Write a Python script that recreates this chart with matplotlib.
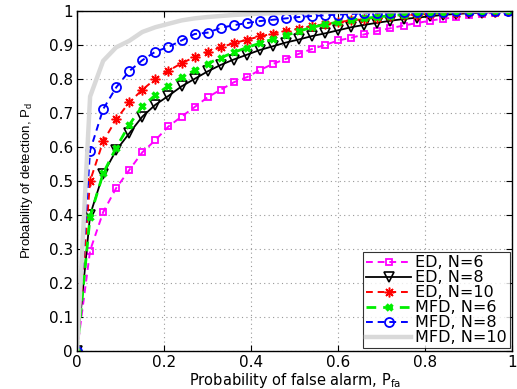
import matplotlib
matplotlib.use("Agg")
import matplotlib.pyplot as plt

pfa = [0.00, 0.03, 0.06, 0.09, 0.12, 0.15, 0.18, 0.21, 0.24, 0.27, 0.30, 0.33,
       0.36, 0.39, 0.42, 0.45, 0.48, 0.51, 0.54, 0.57, 0.60, 0.63, 0.66, 0.69,
       0.72, 0.75, 0.78, 0.81, 0.84, 0.87, 0.90, 0.93, 0.96, 0.99]

ed_n6 = [0, 0.295, 0.408, 0.479, 0.532, 0.584, 0.620, 0.660, 0.689, 0.717, 0.746, 0.768,
         0.790, 0.805, 0.826, 0.844, 0.859, 0.874, 0.888, 0.900, 0.913, 0.921, 0.931, 0.941,
         0.949, 0.957, 0.964, 0.971, 0.977, 0.981, 0.987, 0.991, 0.995, 0.998]
ed_n8 = [0, 0.400, 0.520, 0.590, 0.640, 0.689, 0.724, 0.750, 0.778, 0.800, 0.822, 0.841,
         0.857, 0.871, 0.885, 0.896, 0.907, 0.916, 0.926, 0.934, 0.943, 0.952, 0.959, 0.965,
         0.971, 0.976, 0.980, 0.984, 0.988, 0.991, 0.993, 0.995, 0.997, 0.999]
ed_n10 = [0, 0.500, 0.616, 0.681, 0.731, 0.768, 0.800, 0.824, 0.846, 0.864, 0.879, 0.893,
          0.905, 0.915, 0.925, 0.933, 0.942, 0.948, 0.955, 0.961, 0.967, 0.972, 0.976, 0.980,
          0.984, 0.987, 0.989, 0.991, 0.993, 0.995, 0.996, 0.997, 0.998, 0.999]
mfd_n6 = [0, 0.395, 0.522, 0.598, 0.665, 0.720, 0.752, 0.780, 0.805, 0.825, 0.845, 0.862,
          0.878, 0.892, 0.905, 0.917, 0.928, 0.940, 0.952, 0.960, 0.967, 0.973, 0.978, 0.982,
          0.986, 0.989, 0.991, 0.993, 0.995, 0.996, 0.997, 0.998, 0.999, 0.999]
mfd_n8 = [0, 0.589, 0.711, 0.775, 0.823, 0.855, 0.880, 0.894, 0.913, 0.932, 0.936, 0.950,
          0.958, 0.964, 0.970, 0.974, 0.978, 0.982, 0.985, 0.987, 0.989, 0.991, 0.993, 0.994,
          0.995, 0.996, 0.997, 0.998, 0.998, 0.999, 0.999, 1.0, 1.0, 1.0]
mfd_n10 = [0, 0.748, 0.853, 0.893, 0.912, 0.938, 0.952, 0.962, 0.972, 0.978, 0.982, 0.985,
           0.988, 0.990, 0.992, 0.993, 0.994, 0.995, 0.996, 0.997, 0.997, 0.998, 0.998, 0.999,
           0.999, 0.999, 1.0, 1.0, 1.0, 1.0, 1.0, 1.0, 1.0, 1.0]

labels = ["ED, N=6", "ED, N=8", "ED, N=10", "MFD, N=6", "MFD, N=8", "MFD, N=10"]
xticks = [0, 0.2, 0.4, 0.6, 0.8, 1]
yticks = [0, 0.1, 0.2, 0.3, 0.4, 0.5, 0.6, 0.7, 0.8, 0.9, 1]

plt.rcParams['font.family'] = ['DejaVu Sans']

fig = plt.figure(figsize=(5.17, 3.89), dpi=100)
ax = fig.add_axes([0.149, 0.098, 0.842, 0.874])

dash = (0, (3.5, 2.5))
ax.plot(pfa, ed_n6, linestyle=dash, color='#ff00ff', lw=1.4, marker='s', ms=5,
        mfc='none', mec='#ff00ff', mew=1.3, label=labels[0])
ax.plot(pfa, ed_n8, linestyle='-', color='black', lw=1.3, marker='v', ms=6.5,
        mfc='none', mec='black', mew=1.2, label=labels[1])
ax.plot(pfa, ed_n10, linestyle=dash, color='red', lw=1.4, marker=(8, 2, 0), ms=7,
        mfc='red', mec='red', mew=1.1, label=labels[2])
ax.plot(pfa, mfd_n6, linestyle=dash, color='#00ee00', lw=2.0, marker='x', ms=4.5,
        mfc='#00ee00', mec='#00ee00', mew=2.5, label=labels[3])
ax.plot(pfa, mfd_n8, linestyle=dash, color='#0000ff', lw=1.4, marker='o', ms=6.5,
        mfc='none', mec='#0000ff', mew=1.3, label=labels[4])
ax.plot(pfa, mfd_n10, linestyle='-', color='#d9d9d9', lw=3.2, label=labels[5])

ax.set_xlim(0, 1)
ax.set_ylim(0, 1)
ax.set_xticks(xticks)
ax.set_xticklabels([f"{t:g}" for t in xticks])
ax.set_yticks(yticks)
ax.set_yticklabels([f"{t:g}" for t in yticks])
ax.tick_params(direction='in', top=True, right=True, labelsize=11, length=4, pad=3)
ax.grid(True, linestyle=(0, (1, 3)), color='#999999', lw=0.8)
for s in ax.spines.values():
    s.set_linewidth(1.0)

ax.set_xlabel("Probability of false alarm, P$_{\\mathregular{fa}}$", fontsize=10.5, labelpad=1)
ax.set_ylabel("Probability of detection, P$_{\\mathregular{d}}$", fontsize=9.5,
              family=['Liberation Sans'], labelpad=10)

leg = ax.legend(loc='lower right', fontsize=11.5, frameon=True, fancybox=False,
                edgecolor='black', borderaxespad=0.15, handlelength=2.8,
                labelspacing=0.0, borderpad=0.2, handletextpad=0.25)
leg.get_frame().set_linewidth(0.8)

fig.savefig("out.png", dpi=100)
